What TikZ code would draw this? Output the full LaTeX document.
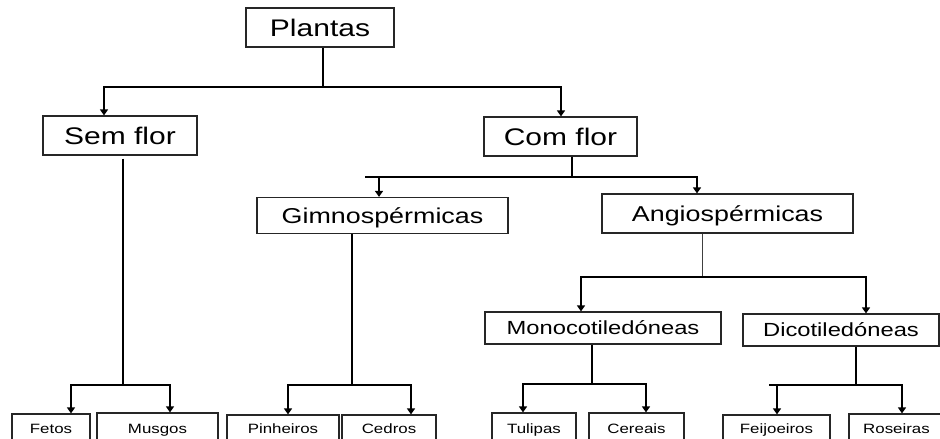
\documentclass[tikz,border=0pt]{standalone}
\usepackage{fontspec}
\setmainfont{Liberation Sans}[FakeStretch=1.25]
\usetikzlibrary{arrows.meta}
\tikzset{
  box/.style={draw=black!85, line width=1.2pt, inner sep=0pt, text=black},
  bigbox/.style={box, font=\fontsize{24}{24}\selectfont, text height=17pt, text depth=0pt},
  midbox/.style={box, font=\fontsize{21.5}{22}\selectfont, text height=15.5pt, text depth=0pt},
  smallbox/.style={box, font=\fontsize{19}{20}\selectfont, text height=13.6pt, text depth=0pt},
  leafbox/.style={box, font=\fontsize{13.5}{14}\selectfont, text height=9.7pt, text depth=0pt},
  branch/.style={line width=2.4pt, line cap=rect},
  stem/.style={line width=2pt},
  thinstem/.style={line width=1pt, draw=black!75},
  arr/.style={line width=1.4pt, -{Triangle[length=6pt,width=8pt]}},
}
\begin{document}
\begin{tikzpicture}[x=1pt, y=-1pt]
\useasboundingbox (0,0) rectangle (940,439);
\clip (0,0) rectangle (940,439);
\fill[white] (0,0) rectangle (940,439);

% nodes
\node[bigbox, minimum width=148pt, minimum height=39pt] (plantas) at (320,27.5) {Plantas};
\node[bigbox, minimum width=154pt, minimum height=39pt] (semflor) at (120,135.5) {Sem flor};
\node[bigbox, minimum width=153pt, minimum height=39pt] (comflor) at (560.5,136.5) {Com flor};
\node[midbox, minimum width=251pt, minimum height=36pt] (gimno) at (382.5,215.5) {Gimnospérmicas};
\node[midbox, minimum width=251pt, minimum height=39pt] (angio) at (727.5,213.5) {Angiospérmicas};
\node[smallbox, minimum width=236pt, minimum height=32pt] (mono) at (603,328) {Monocotiledóneas};
\node[smallbox, minimum width=196pt, minimum height=32pt] (dico) at (841,330) {Dicotiledóneas};

\node[leafbox, minimum width=78pt, minimum height=30pt] (fetos) at (51,429) {Fetos};
\node[leafbox, minimum width=121pt, minimum height=32pt] (musgos) at (157.5,429) {Musgos};
\node[leafbox, minimum width=112pt, minimum height=28pt] (pinheiros) at (283,429) {Pinheiros};
\node[leafbox, minimum width=94pt, minimum height=28pt] (cedros) at (389,429) {Cedros};
\node[leafbox, minimum width=84pt, minimum height=32pt] (tulipas) at (534,429) {Tulipas};
\node[leafbox, minimum width=95pt, minimum height=32pt] (cereais) at (636.5,429) {Cereais};
\node[leafbox, minimum width=107pt, minimum height=28pt] (feijoeiros) at (776.5,429) {Feijoeiros};
\node[leafbox, minimum width=95pt, minimum height=30pt] (roseiras) at (896.5,429) {Roseiras};

% Plantas
\coordinate (p0) at (323,87);
\coordinate (pL) at (104,87);
\coordinate (pR) at (561,87);
\draw[stem] (plantas.south -| p0) -- (p0);
\draw[branch] (pL) -- (pR);
\draw[arr] (pL) -- (pL |- semflor.north);
\draw[arr] (pR) -- (pR |- comflor.north);

% Sem flor
\coordinate (s0) at (123,385);
\coordinate (sL) at (71,385);
\coordinate (sR) at (170,385);
\draw[stem] (semflor.south -| s0) ++(0,3) -- (s0);
\draw[branch] (sL) -- (sR);
\draw[arr] (sL) -- (sL |- fetos.north);
\draw[arr] (sR) -- (sR |- musgos.north);

% Com flor
\coordinate (c0) at (572,177);
\coordinate (cE) at (366,177);
\coordinate (cL) at (379,177);
\coordinate (cR) at (697,177);
\draw[stem] (comflor.south -| c0) -- (c0);
\draw[branch] (cE) -- (cR);
\draw[arr] (cL) -- (cL |- gimno.north);
\draw[arr] (cR) -- (cR |- angio.north);

% Gimnospermicas
\coordinate (g0) at (352,385);
\coordinate (gL) at (288,385);
\coordinate (gR) at (411,385);
\draw[stem] (gimno.south -| g0) -- (g0);
\draw[branch] (gL) -- (gR);
\draw[arr] (gL) -- (gL |- pinheiros.north);
\draw[arr] (gR) -- (gR |- cedros.north);

% Angiospermicas
\coordinate (a0) at (702,277);
\coordinate (aL) at (581,277);
\coordinate (aR) at (866,277);
\draw[thinstem] (angio.south -| a0) -- (a0);
\draw[branch] (aL) -- (aR);
\draw[arr] (aL) -- (aL |- mono.north);
\draw[arr] (aR) -- (aR |- dico.north);

% Monocotiledoneas
\coordinate (m0) at (592,384);
\coordinate (mL) at (523,384);
\coordinate (mR) at (646,384);
\draw[stem] (mono.south -| m0) -- (m0);
\draw[branch] (mL) -- (mR);
\draw[arr] (mL) -- (mL |- tulipas.north);
\draw[arr] (mR) -- (mR |- cereais.north);

% Dicotiledoneas
\coordinate (d0) at (856,385);
\coordinate (dE) at (770,385);
\coordinate (dL) at (777,385);
\coordinate (dR) at (902,385);
\draw[stem] (dico.south -| d0) -- (d0);
\draw[branch] (dE) -- (dR);
\draw[arr] (dL) -- (dL |- feijoeiros.north);
\draw[arr] (dR) -- (dR |- roseiras.north);
\end{tikzpicture}
\end{document}
